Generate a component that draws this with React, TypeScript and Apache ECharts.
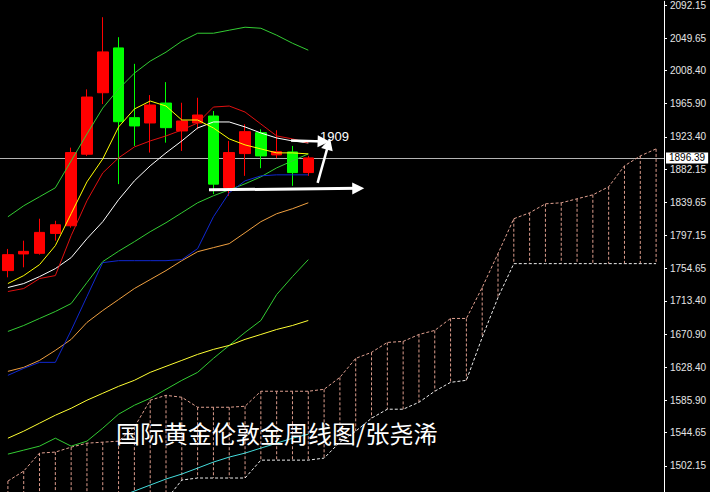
import React, { useEffect, useRef } from "react";
import * as echarts from "echarts";

// ---- categories (weekly bars; last 22 slots are the forward-shifted Ichimoku cloud) ----
const weeks = [
  "W01", "W02", "W03", "W04", "W05", "W06", "W07", "W08", "W09", "W10",
  "W11", "W12", "W13", "W14", "W15", "W16", "W17", "W18", "W19", "W20",
  "W21", "W22", "W23", "W24", "W25", "W26", "W27", "W28", "W29", "W30",
  "W31", "W32", "W33", "W34", "W35", "W36", "W37", "W38", "W39", "W40",
  "W41", "W42",
];

// ---- candles ----
const candleOpen = [1752.1, 1773.4, 1774.2, 1799.7, 1809.5, 1901.1, 1979.8, 2037.2, 1947.9, 1941.1, 1966.6, 1930.9, 1941.1, 1950.0, 1858.5, 1901.9, 1928.7, 1900.2, 1904.0, 1877.6];
const candleClose = [1772.5, 1776.7, 1801.0, 1810.8, 1903.2, 1974.3, 2032.1, 1942.7, 1937.3, 1964.1, 1935.1, 1943.6, 1951.3, 1862.8, 1903.2, 1930.0, 1898.9, 1904.4, 1877.6, 1896.39];
const candleLow = [1743.5, 1756.3, 1772.5, 1790.4, 1807.0, 1898.9, 1965.3, 1862.8, 1911.7, 1903.2, 1915.9, 1905.3, 1933.0, 1850.0, 1847.9, 1873.4, 1883.2, 1896.0, 1860.6, 1873.4];
const candleHigh = [1779.8, 1790.4, 1818.5, 1815.9, 1909.5, 1984.1, 2076.5, 2050.9, 2016.8, 1976.8, 1993.4, 1967.0, 1973.4, 1956.4, 1918.1, 1939.4, 1933.0, 1931.8, 1911.7, 1899.0];

// ---- indicator lines ----
const bandUpper = [1821.0, 1835.1, 1846.6, 1858.1, 1892.6, 1927.0, 1960.2, 1984.5, 2004.9, 2020.3, 2031.8, 2045.8, 2056.0, 2056.0, 2059.9, 2063.7, 2062.4, 2053.5, 2043.2, 2034.3];
const bandMiddle = [1674.2, 1681.8, 1690.8, 1699.7, 1709.9, 1736.8, 1763.6, 1776.9, 1789.1, 1801.9, 1813.4, 1826.1, 1838.9, 1847.9, 1855.5, 1863.2, 1872.1, 1883.6, 1892.6, 1901.5];
const bandLower = [1517.1, 1522.2, 1527.3, 1537.5, 1527.3, 1533.7, 1550.3, 1568.2, 1579.7, 1588.6, 1600.1, 1611.6, 1621.8, 1639.7, 1656.3, 1672.9, 1688.2, 1721.4, 1744.4, 1766.1];
const maYellow = [1735.5, 1745.7, 1759.7, 1784.0, 1824.9, 1865.7, 1895.1, 1936.0, 1959.0, 1969.2, 1962.8, 1944.9, 1944.9, 1934.7, 1920.7, 1913.0, 1907.9, 1902.8, 1902.8, 1901.5];
const maWhite = [1730.4, 1735.5, 1744.4, 1754.6, 1768.7, 1792.9, 1814.7, 1842.8, 1867.0, 1886.2, 1902.8, 1918.1, 1934.7, 1942.4, 1942.4, 1936.0, 1928.3, 1921.9, 1918.1, 1915.5];
const tenkanRed = [1725.3, 1729.1, 1741.9, 1745.7, 1796.8, 1841.5, 1877.2, 1896.4, 1910.4, 1918.1, 1924.5, 1932.1, 1941.1, 1961.5, 1962.8, 1955.1, 1939.8, 1924.5, 1920.7, 1915.5];
const kijunBlue = [1618.0, 1626.9, 1634.6, 1634.6, 1675.5, 1718.9, 1762.3, 1764.8, 1764.8, 1764.8, 1764.8, 1766.1, 1780.2, 1821.0, 1851.7, 1867.0, 1873.4, 1874.7, 1874.7, 1874.7];
const maOrange = [1623.1, 1628.2, 1637.1, 1649.9, 1664.0, 1685.7, 1701.0, 1715.0, 1729.1, 1740.6, 1752.1, 1764.8, 1776.3, 1781.5, 1786.6, 1800.6, 1814.7, 1824.9, 1831.3, 1838.9];
const maYellowSlow = [1537.5, 1546.5, 1556.7, 1566.9, 1575.8, 1586.1, 1595.0, 1603.9, 1611.6, 1621.8, 1629.5, 1637.1, 1644.8, 1651.2, 1656.3, 1664.0, 1670.3, 1676.7, 1681.8, 1688.2];
const maCyan = [null, null, null, null, null, null, null, 1462.2, 1469.8, 1477.5, 1485.2, 1491.6, 1499.2, 1506.9, 1513.3, 1518.4, 1524.8, 1531.1, 1537.5, 1542.6];

// ---- Ichimoku cloud (42 slots) ----
const spanA = [
  1482.6, 1495.4, 1518.4, 1519.7, 1526.0, 1531.1, 1532.4, 1533.7, 1551.6, 1586.1,
  1592.4, 1589.9, 1577.1, 1577.1, 1577.1, 1578.4, 1597.6, 1597.6, 1597.6, 1597.6,
  1600.1, 1615.4, 1639.7, 1647.4, 1660.1, 1661.4, 1670.3, 1675.5, 1690.8, 1690.8,
  1730.4, 1773.8, 1818.5, 1826.1, 1837.6, 1838.9, 1844.0, 1849.1, 1859.4, 1886.2,
  1898.9, 1907.9,
];
const spanB = [
  1420.0, 1420.0, 1420.0, 1420.0, 1420.0, 1420.0, 1420.0, 1420.0, 1420.0, 1420.0,
  1458.4, 1483.9, 1486.5, 1486.5, 1486.5, 1486.5, 1509.4, 1509.4, 1509.4, 1509.4,
  1512.0, 1532.4, 1546.5, 1563.1, 1574.6, 1574.6, 1583.5, 1597.6, 1609.0, 1611.6,
  1666.5, 1717.6, 1761.0, 1761.0, 1761.0, 1761.0, 1761.0, 1761.0, 1761.0, 1761.0,
  1761.0, 1761.0,
];

// ---- axis ----
const priceTicks = [2092.15, 2049.65, 2008.4, 1965.9, 1923.4, 1882.15, 1839.65, 1797.15, 1754.65, 1713.4, 1670.9, 1628.4, 1585.9, 1544.65, 1502.15];
const priceMin = 1468.6;
const priceMax = 2096.9;
const lastPrice = 1896.39;

// ---- annotations (bar index, price) ----
const arrowStarts = [[12.72, 1855.5], [19.59, 1864.5], [17.91, 1918.7]];
const arrowEnds = [[22.16, 1857.4], [20.28, 1914.3], [19.97, 1917.5]];
const arrowWidths = [3, 2.5, 2.5];
const targetText = "1909";
const titleText = "国际黄金伦敦金周线图/张尧浠";

export default function App() {
  const ref = useRef<HTMLDivElement>(null);

  useEffect(() => {
    if (!ref.current) return;
    const chart = echarts.init(ref.current, undefined, { renderer: "svg" });

    const candleData = candleOpen.map((o, i) => [o, candleClose[i], candleLow[i], candleHigh[i]]);
    const cloudData = spanA.map((a, i) => [i, a, spanB[i]]);

    const mkLine = (name: string, data: any[], color: string, z = 3) => ({
      name,
      type: "line",
      data,
      showSymbol: false,
      symbol: "none",
      silent: true,
      z,
      lineStyle: { color, width: 1 },
      connectNulls: false,
    });

    const option: any = {
      animation: false,
      backgroundColor: "#000000",
      grid: { left: -4.5, right: 46, top: 0, bottom: 0, containLabel: false },
      xAxis: [
        { type: "category", data: weeks, boundaryGap: true, show: false },
        { type: "value", min: -0.5, max: 41.5, show: false },
      ],
      yAxis: {
        type: "value",
        position: "right",
        min: priceMin,
        max: priceMax,
        axisLine: { show: true, onZero: false, lineStyle: { color: "#ffffff", width: 1 } },
        axisTick: { show: true, length: 3, customValues: priceTicks, lineStyle: { color: "#ffffff" } },
        axisLabel: {
          customValues: priceTicks,
          formatter: (v: number) => v.toFixed(2),
          color: "#e6e6e6",
          fontSize: 10,
          fontFamily: "Liberation Sans",
          margin: 6,
        },
        splitLine: { show: false },
      },
      series: [
        {
          name: "cloudHatch",
          type: "custom",
          clip: true,
          silent: true,
          z: 1,
          data: cloudData,
          encode: { x: 0, y: [1, 2] },
          renderItem: (params: any, api: any) => {
            const k = api.value(0);
            const a = api.coord([k, api.value(1)]);
            const b = api.coord([k, api.value(2)]);
            return {
              type: "line",
              shape: { x1: a[0], y1: a[1], x2: b[0], y2: b[1] },
              style: { stroke: "#dc9c8c", lineWidth: 1, lineDash: [3, 2] },
            };
          },
        },
        {
          name: "spanA",
          type: "line",
          data: spanA,
          showSymbol: false,
          symbol: "none",
          silent: true,
          z: 2,
          lineStyle: { color: "#e0a090", width: 1, type: [3, 2] },
        },
        {
          name: "spanB",
          type: "line",
          data: spanB,
          showSymbol: false,
          symbol: "none",
          silent: true,
          z: 2,
          lineStyle: { color: "#ececec", width: 1, type: [3, 2] },
        },
        {
          name: "price",
          type: "candlestick",
          data: candleData,
          barWidth: 11,
          z: 2,
          silent: true,
          itemStyle: {
            color: "#ff0000",
            color0: "#00ff00",
            borderColor: "#ff0000",
            borderColor0: "#00ff00",
            borderWidth: 1,
          },
          markLine: {
            silent: true,
            z: 1,
            symbol: ["none", "none"],
            lineStyle: { color: "#b4b4b4", width: 1, type: "solid" },
            label: {
              show: true,
              position: "end",
              distance: 2,
              formatter: () => lastPrice.toFixed(2),
              color: "#000000",
              backgroundColor: "#ffffff",
              padding: [1, 3, 0, 3],
              fontSize: 10,
              fontFamily: "Liberation Sans",
            },
            data: [{ yAxis: lastPrice }],
          },
        },
        mkLine("bandUpper", bandUpper, "#33cc33"),
        mkLine("bandMiddle", bandMiddle, "#33cc33"),
        mkLine("bandLower", bandLower, "#33cc33"),
        mkLine("maYellowSlow", maYellowSlow, "#ffff33"),
        mkLine("maCyan", maCyan, "#44dddd"),
        mkLine("maOrange", maOrange, "#f0a040"),
        mkLine("kijun", kijunBlue, "#1028d0"),
        mkLine("maWhite", maWhite, "#ffffff"),
        mkLine("tenkan", tenkanRed, "#e01010"),
        mkLine("maYellow", maYellow, "#ffff00"),
        {
          name: "annotations",
          type: "line",
          xAxisIndex: 1,
          data: [[-10, 1900]],
          showSymbol: false,
          symbol: "none",
          silent: true,
          z: 10,
          lineStyle: { opacity: 0 },
          markLine: {
            silent: true,
            z: 10,
            symbol: ["none", "triangle"],
            symbolSize: 12,
            label: { show: false },
            emphasis: { disabled: true },
            lineStyle: { color: "#ffffff", width: 2.5, type: "solid" },
            data: arrowStarts.map((s, i) => [
              { coord: s, lineStyle: { color: "#ffffff", width: arrowWidths[i], type: "solid" } },
              { coord: arrowEnds[i] },
            ]),
          },
        },
      ],
      graphic: [
        {
          type: "text",
          left: 320,
          top: 130,
          z: 100,
          silent: true,
          style: { text: targetText, fill: "#ffffff", fontSize: 13, fontFamily: "Liberation Sans" },
        },
        {
          type: "text",
          left: 116,
          top: 420,
          z: 100,
          silent: true,
          style: { text: titleText, fill: "#ffffff", fontSize: 24, fontFamily: "Noto Sans CJK SC" },
        },
      ],
    };

    chart.setOption(option);
    return () => chart.dispose();
  }, []);

  return (
    <div
      ref={ref}
      style={{ position: "fixed", left: 0, top: 0, width: 710, height: 492, background: "#000" }}
    />
  );
}
